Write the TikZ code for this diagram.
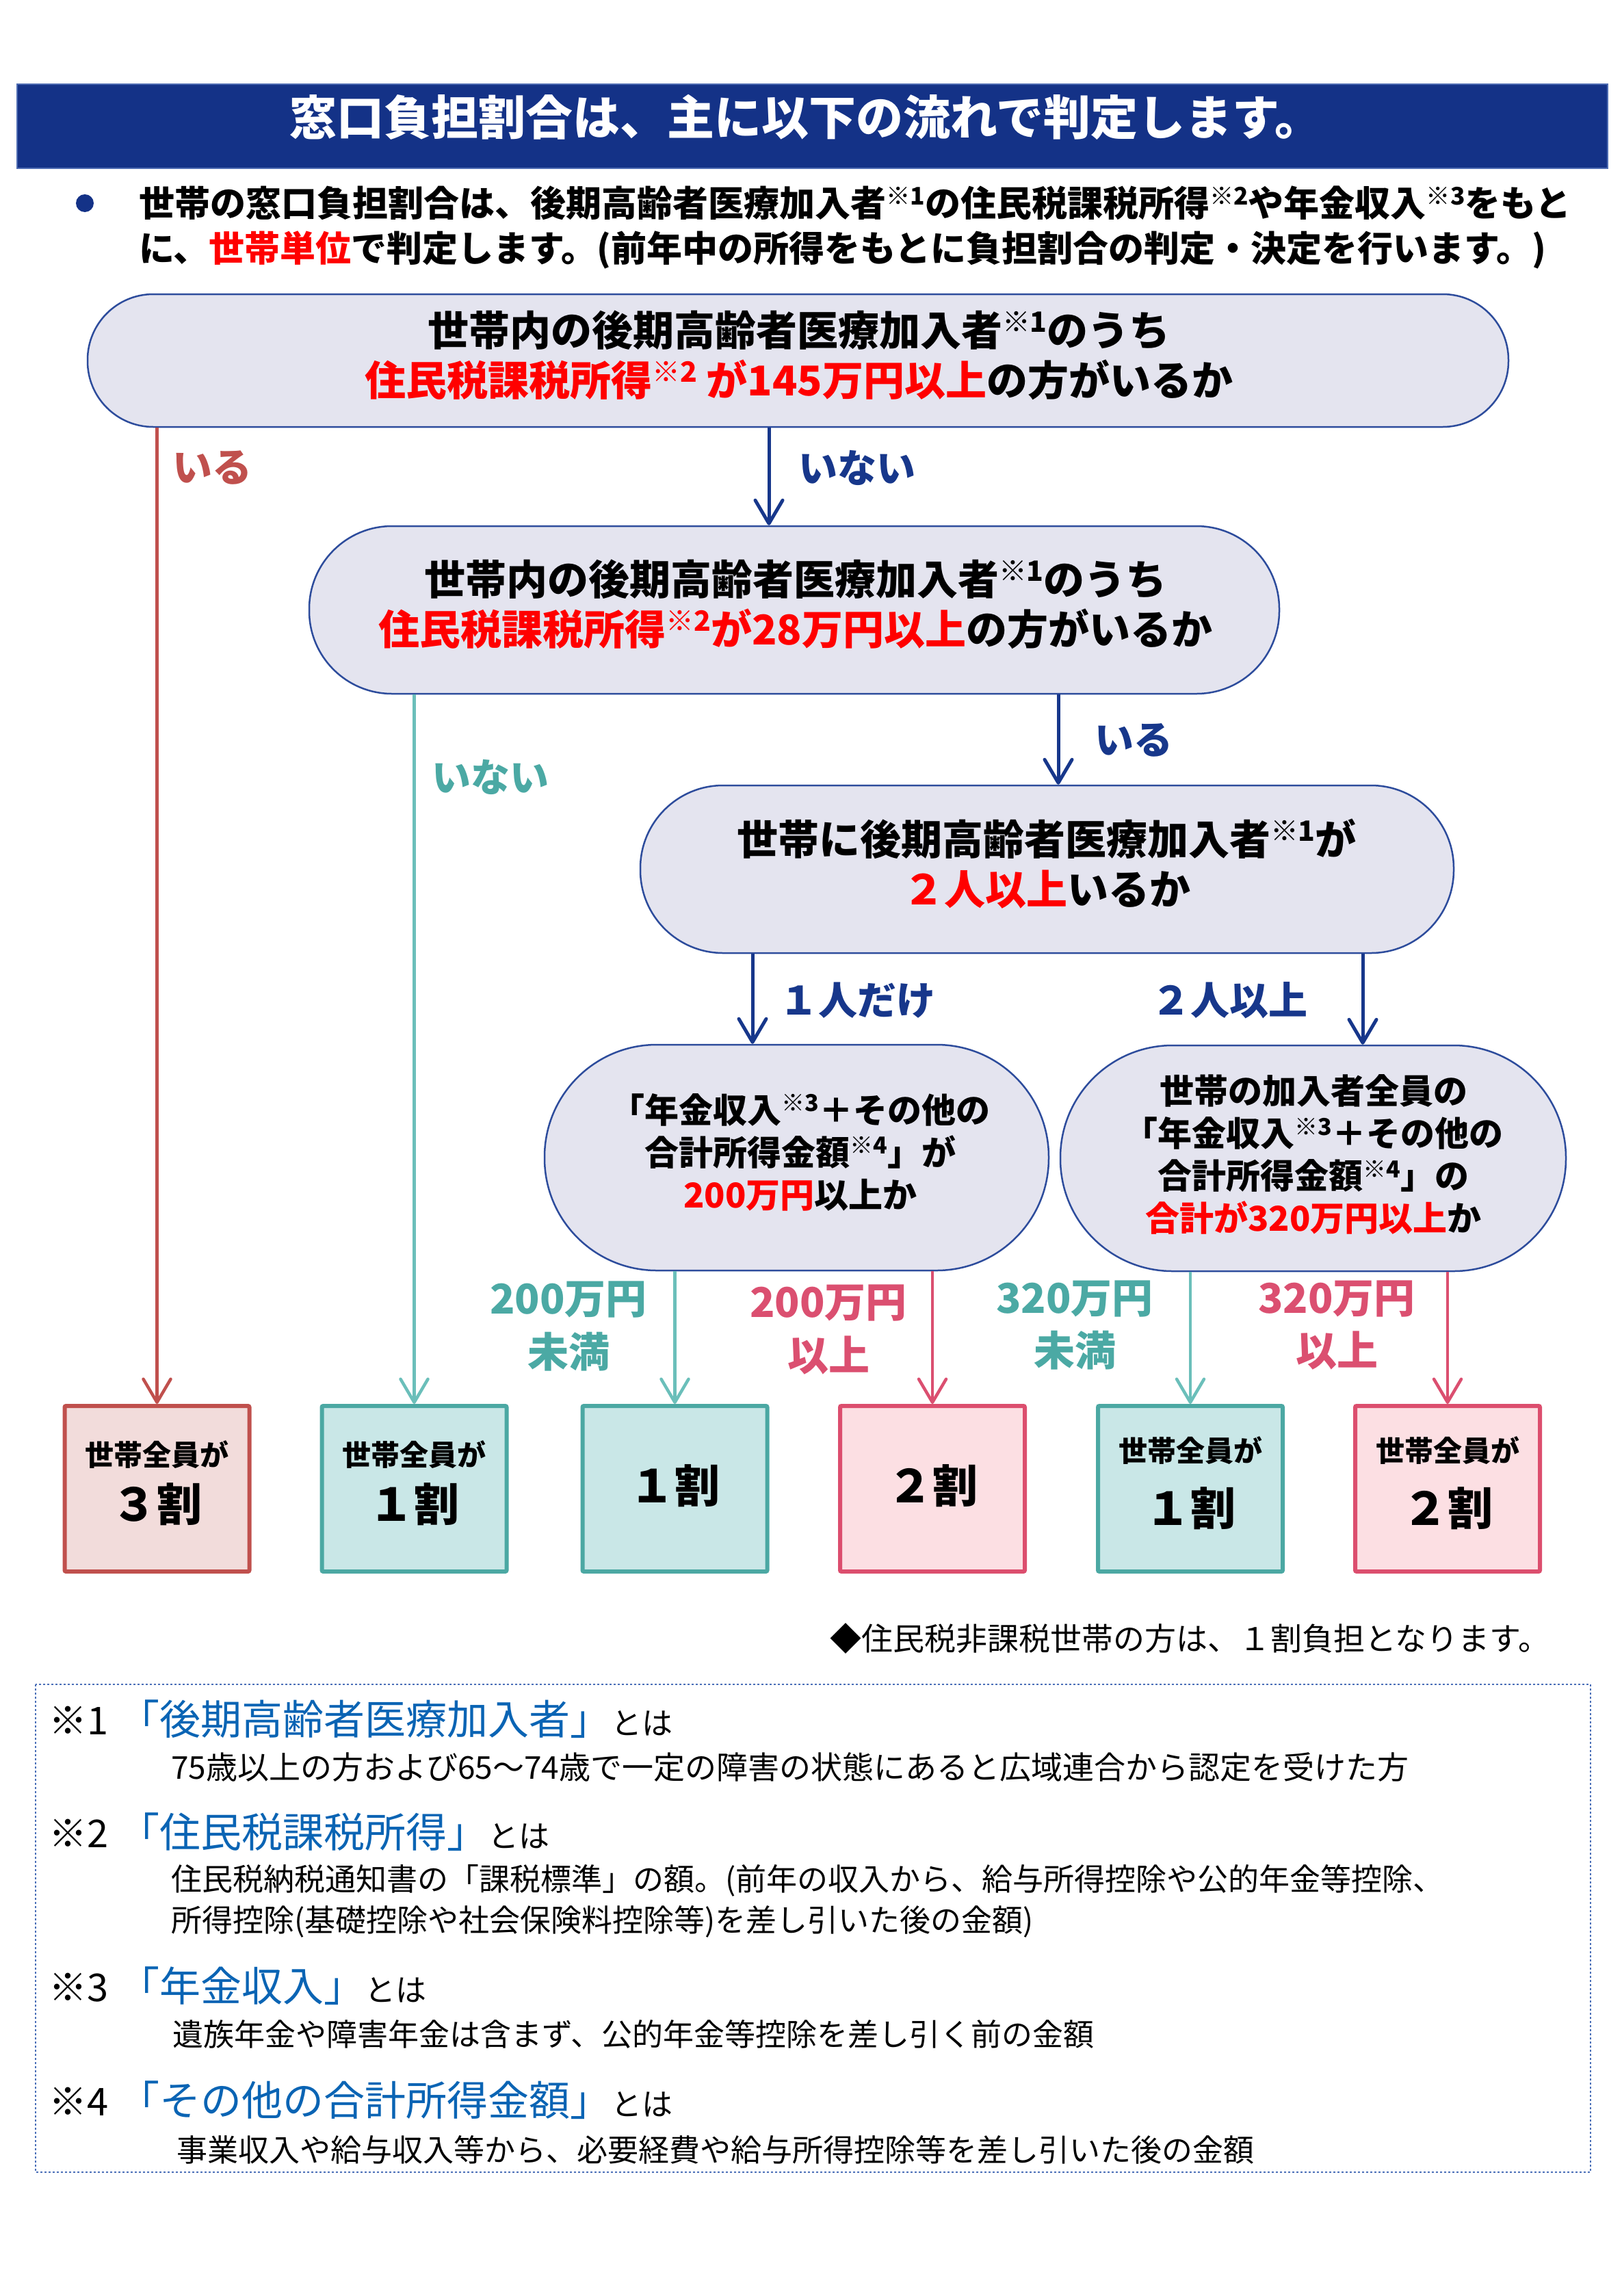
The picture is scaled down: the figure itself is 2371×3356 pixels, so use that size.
\documentclass[tikz,border=0pt]{standalone}
\usepackage{fontspec}
\usepackage{graphicx}
\setmainfont{Noto Sans CJK JP}
\usetikzlibrary{arrows.meta}
\definecolor{navy}{HTML}{143287}
\definecolor{barline}{HTML}{4F6DB3}
\definecolor{boxfill}{HTML}{E4E4EF}
\definecolor{boxline}{HTML}{2D4C9C}
\definecolor{arrowblue}{HTML}{17378B}
\definecolor{txtred}{HTML}{FF0000}
\definecolor{redline}{HTML}{C0504D}
\definecolor{redfill}{HTML}{F2DCDB}
\definecolor{tealline}{HTML}{6BBFBA}
\definecolor{teallabel}{HTML}{4BA9A4}
\definecolor{tealbox}{HTML}{4BA8A3}
\definecolor{tealfill}{HTML}{C9E7E7}
\definecolor{pinkline}{HTML}{DB4F70}
\definecolor{pinkbox}{HTML}{DC4E6E}
\definecolor{pinkfill}{HTML}{FCDFE3}
\definecolor{fnblue}{HTML}{0A64B4}
\definecolor{dotblue}{HTML}{4A6FB8}
\newcommand\nsup[1]{\raisebox{0.33em}{\scalebox{0.68}{#1}}}
\begin{document}
\begin{tikzpicture}[x=1pt,y=-1pt,
  rt/.style={font={\fontsize{#1}{#1}\selectfont}, inner sep=0pt, text height={0.88*#1pt}, text depth={0.12*#1pt}},
  bt/.style={rt=#1, font={\bfseries\fontsize{#1}{#1}\selectfont}},
  dec/.style={draw=boxline, fill=boxfill, line width=2.5pt, inner sep=0pt},
  res/.style={line width=6pt, inner sep=0pt, minimum width=270pt, minimum height=242pt, rounded corners=2pt},
  resR/.style={res, draw=redline, fill=redfill},
  resT/.style={res, draw=tealbox, fill=tealfill},
  resP/.style={res, draw=pinkbox, fill=pinkfill},
  conn/.style={line width=4.5pt, -{Straight Barb[length=34pt,width=40pt,round]}},
  connB/.style={conn, draw=arrowblue, line width=5pt},
  connR/.style={conn, draw=redline},
  connT/.style={conn, draw=tealline},
  connP/.style={conn, draw=pinkline},
  multi/.style={align=center, inner sep=0pt}
]
\fill[white] (0,0) rectangle (2371,3356);
\useasboundingbox (0,0) rectangle (2371,3356);

% title bar
\node[fill=navy, draw=barline, line width=2pt, minimum width=2325pt, minimum height=123pt, inner sep=0pt] (bar) at (1187.5,184.5) {};
\node[bt=69, text=white] (title) at (1178,171) {窓口負担割合は、主に以下の流れで判定します。};

% bullet text
\node[circle, fill=navy, minimum size=26pt, inner sep=0pt] (dot) at (124,297) {};
\node[bt=52, anchor=west] (intro1) at (203,297) {世帯の窓口負担割合は、後期高齢者医療加入者\nsup{※1}の住民税課税所得\nsup{※2}や年金収入\nsup{※3}をもと};
\node[bt=52, anchor=west] (intro2) at (203,363) {に、{\color{txtred}世帯単位}で判定します。(前年中の所得をもとに負担割合の判定・決定を行います。)};

% decision boxes
\node[dec, rounded corners=96pt, minimum width=2077pt, minimum height=194pt] (b1) at (1166.5,527) {};
\node[dec, rounded corners=121pt, minimum width=1418pt, minimum height=245pt] (b2) at (1161,891.5) {};
\node[dec, rounded corners=121pt, minimum width=1189pt, minimum height=245pt] (b3) at (1530.5,1270.5) {};
\node[dec, rounded corners=164pt, minimum width=737pt, minimum height=330pt] (b4) at (1164.5,1692) {};
\node[dec, rounded corners=164pt, minimum width=739pt, minimum height=330pt] (b5) at (1919.5,1693) {};

\node[multi, font={\bfseries\fontsize{60}{73}\selectfont}] (t1) at (1168,519.5) {世帯内の後期高齢者医療加入者\nsup{※1}のうち\\{\color{txtred}住民税課税所得\nsup{※2} が145万円以上}の方がいるか};
\node[multi, font={\bfseries\fontsize{60}{73}\selectfont}] (t2) at (1163,883.5) {世帯内の後期高齢者医療加入者\nsup{※1}のうち\\{\color{txtred}住民税課税所得\nsup{※2}が28万円以上}の方がいるか};
\node[multi, font={\bfseries\fontsize{60}{73}\selectfont}] (t3) at (1530,1262.5) {世帯に後期高齢者医療加入者\nsup{※1}が\\{\color{txtred}２人以上}いるか};
\node[multi, font={\bfseries\fontsize{50}{62}\selectfont}] (t4) at (1170,1684) {「年金収入\nsup{※3}＋その他の\\合計所得金額\nsup{※4}」が\\{\color{txtred}200万円}以上か};
\node[multi, font={\bfseries\fontsize{50}{62}\selectfont}] (t5) at (1920,1687.5) {世帯の加入者全員の\\「年金収入\nsup{※3}＋その他の\\合計所得金額\nsup{※4}」の\\{\color{txtred}合計が320万円以上}か};

% result boxes
\node[resR] (rA) at (229.5,2176) {};
\node[resT] (rB) at (605.5,2176) {};
\node[resT] (rC) at (986.5,2176) {};
\node[resP] (rD) at (1363,2176) {};
\node[resT] (rE) at (1740,2176) {};
\node[resP] (rF) at (2116,2176) {};

\node[bt=42] (rA1) at (229.5,2127) {世帯全員が};
\node[bt=66] (rA2) at (229.5,2198) {３割};
\node[bt=42] (rB1) at (605.5,2127) {世帯全員が};
\node[bt=66] (rB2) at (605.5,2198) {１割};
\node[bt=66] (rC1) at (986.5,2171) {１割};
\node[bt=66] (rD1) at (1363,2171) {２割};
\node[bt=42] (rE1) at (1740,2121) {世帯全員が};
\node[bt=66] (rE2) at (1740,2204) {１割};
\node[bt=42] (rF1) at (2116,2121) {世帯全員が};
\node[bt=66] (rF2) at (2116,2204) {２割};

% connectors
\coordinate (x12) at (1124,0);
\coordinate (x23) at (1547,0);
\coordinate (x34) at (1100,0);
\coordinate (x35) at (1992,0);
\draw[connB] (b1.south -| x12) -- (b2.north -| x12);
\draw[connB] (b2.south -| x23) -- (b3.north -| x23);
\draw[connB] (b3.south -| x34) -- (b4.north -| x34);
\draw[connB] (b3.south -| x35) -- (b5.north -| x35);
\draw[connR] (b1.south -| rA.north) -- (rA.north);
\draw[connT] (b2.south -| rB.north) -- (rB.north);
\draw[connT] (b4.south -| rC.north) -- (rC.north);
\draw[connP] (b4.south -| rD.north) -- (rD.north);
\draw[connT] (b5.south -| rE.north) -- (rE.north);
\draw[connP] (b5.south -| rF.north) -- (rF.north);

% connector labels
\node[bt=58, anchor=west, text=redline] (l1) at (252,682) {いる};
\node[bt=57, anchor=west, text=arrowblue] (l2) at (1167,684) {いない};
\node[bt=57, anchor=west, text=teallabel] (l3) at (631,1136) {いない};
\node[bt=57, anchor=west, text=arrowblue] (l4) at (1600,1081) {いる};
\node[bt=57, text=arrowblue] (l5) at (1253,1462) {１人だけ};
\node[bt=57, text=arrowblue] (l6) at (1797,1462) {２人以上};
\node[bt=60, text=teallabel] (l7a) at (831,1898) {200万円};
\node[bt=60, text=teallabel] (l7b) at (831,1976) {未満};
\node[bt=60, text=pinkline] (l8a) at (1211,1903) {200万円};
\node[bt=60, text=pinkline] (l8b) at (1211,1981) {以上};
\node[bt=60, text=teallabel] (l9a) at (1571,1897) {320万円};
\node[bt=60, text=teallabel] (l9b) at (1571,1974) {未満};
\node[bt=60, text=pinkline] (l10a) at (1954,1897) {320万円};
\node[bt=60, text=pinkline] (l10b) at (1954,1974) {以上};

% note
\node[rt=46, anchor=west] (note) at (1213,2395) {◆住民税非課税世帯の方は、１割負担となります。};

% footnote box
\draw[draw=dotblue, line width=2.5pt, dash pattern=on 3pt off 3pt] (52,2462) rectangle (2325,3175);

\node[rt=56, anchor=base west] (k1) at (71,2535) {※1};
\node[rt=60, anchor=base west, text=fnblue] (h1) at (173,2535) {「後期高齢者医療加入者」};
\node[rt=45, anchor=base west] (w1) at (h1.base east) {とは};
\node[rt=46, anchor=west] (d1) at (250,2583) {75歳以上の方および65～74歳で一定の障害の状態にあると広域連合から認定を受けた方};

\node[rt=56, anchor=base west] (k2) at (71,2700) {※2};
\node[rt=60, anchor=base west, text=fnblue] (h2) at (173,2700) {「住民税課税所得」};
\node[rt=45, anchor=base west] (w2) at (h2.base east) {とは};
\node[rt=45, anchor=west] (d2a) at (250,2746) {住民税納税通知書の「課税標準」の額。(前年の収入から、給与所得控除や公的年金等控除、};
\node[rt=45, anchor=west] (d2b) at (250,2806) {所得控除(基礎控除や社会保険料控除等)を差し引いた後の金額)};

\node[rt=56, anchor=base west] (k3) at (71,2925) {※3};
\node[rt=60, anchor=base west, text=fnblue] (h3) at (173,2925) {「年金収入」};
\node[rt=45, anchor=base west] (w3) at (h3.base east) {とは};
\node[rt=45, anchor=west] (d3) at (252,2973) {遺族年金や障害年金は含まず、公的年金等控除を差し引く前の金額};

\node[rt=56, anchor=base west] (k4) at (71,3092) {※4};
\node[rt=60, anchor=base west, text=fnblue] (h4) at (173,3092) {「その他の合計所得金額」};
\node[rt=45, anchor=base west] (w4) at (h4.base east) {とは};
\node[rt=45, anchor=west] (d4) at (258,3142) {事業収入や給与収入等から、必要経費や給与所得控除等を差し引いた後の金額};
\end{tikzpicture}
\end{document}
